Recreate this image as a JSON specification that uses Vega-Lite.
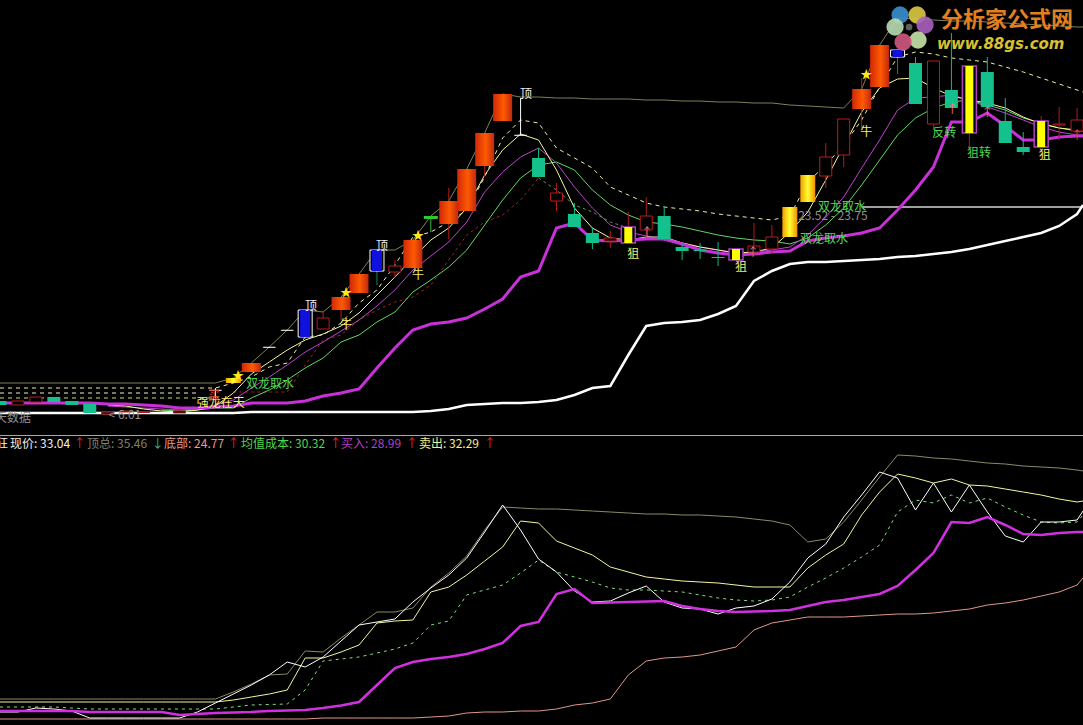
{"$schema":"https://vega.github.io/schema/vega-lite/v6.json","background":"#000000","padding":0,"spacing":0,"bounds":"flush","config":{"view":{"stroke":null},"text":{"font":"Noto Sans CJK SC"}},
"datasets":{
"top":[
{"i":0,"k":"g","t":3.4,"b":3.0,"h":3.4,"l":3.0,"m":3.2,"w":2.2,"o":5.2,"d":4.7,"e":4.2,"f":3.7},
{"i":1,"k":"r","t":3.4,"b":3.0,"h":3.4,"l":3.0,"m":3.2,"w":2.2,"o":5.2,"d":4.7,"e":4.2,"f":3.7},
{"i":2,"k":"r","t":3.8,"b":3.3,"h":3.8,"l":3.3,"m":3.2,"w":2.2,"o":5.2,"d":4.7,"e":4.2,"f":3.7},
{"i":3,"k":"g","t":3.8,"b":3.3,"h":3.8,"l":3.3,"m":3.2,"w":2.2,"o":5.2,"d":4.7,"e":4.2,"f":3.7},
{"i":4,"k":"g","t":3.4,"b":3.0,"h":3.4,"l":3.0,"m":3.2,"w":2.2,"o":5.2,"d":4.7,"e":4.2,"f":3.7},
{"i":5,"k":"g","t":3.1,"b":2.2,"h":3.1,"l":2.2,"m":3.2,"w":2.2,"o":5.2,"d":4.7,"e":4.2,"f":3.7},
{"i":6,"k":"r","t":2.3,"b":2.1,"h":2.3,"l":2.1,"m":3.1,"w":2.2,"o":5.2,"d":4.7,"e":4.2,"f":3.7,"y":3.0,"p":2.9},
{"i":7,"k":"r","t":2.4,"b":2.3,"h":2.4,"l":2.3,"m":3.1,"w":2.2,"o":5.2,"d":4.7,"e":4.2,"f":3.7,"y":2.9,"p":2.8},
{"i":8,"k":"r","t":2.3,"b":2.25,"h":2.3,"l":2.25,"m":3.0,"w":2.2,"o":5.2,"d":4.7,"e":4.2,"f":3.7,"y":2.6,"p":2.7},
{"i":9,"m":2.9,"w":2.2,"o":5.2,"d":4.7,"e":4.2,"f":3.7,"y":2.4,"p":2.6,"g":2.5},
{"i":10,"k":"r","t":2.4,"b":2.2,"h":2.4,"l":2.2,"m":2.7,"w":2.2,"o":5.2,"d":4.7,"e":4.2,"f":3.7,"y":2.3,"p":2.5,"g":2.4},
{"i":11,"m":2.7,"w":2.2,"o":5.2,"d":4.7,"e":4.2,"f":3.7,"y":2.5,"p":2.6,"g":2.5},
{"i":12,"k":"w","t":4.5,"b":4.45,"h":4.7,"l":3.7,"m":2.8,"w":2.2,"o":5.2,"d":4.7,"f":3.7,"y":2.9,"p":3.0,"g":2.7},
{"i":13,"k":"Y","t":5.7,"b":5.2,"h":5.7,"l":5.2,"m":2.9,"w":2.2,"o":5.7,"d":5.2,"y":4.2,"p":3.5,"g":2.7,"r":4.3},
{"i":14,"k":"O","t":7.2,"b":6.3,"h":7.2,"l":6.3,"m":3.2,"w":2.3,"o":7.2,"d":5.8,"y":6.1,"p":4.7,"g":3.7,"r":4.3},
{"i":15,"k":"w","t":8.8,"b":8.75,"h":8.8,"l":8.75,"m":3.2,"w":2.3,"o":8.8,"d":6.8,"y":7.3,"p":5.8,"g":4.5,"r":4.3},
{"i":16,"k":"w","t":10.5,"b":10.45,"h":10.5,"l":10.45,"m":3.2,"w":2.3,"o":10.5,"d":7.2,"y":8.5,"p":7.0,"g":5.5,"r":4.3},
{"i":17,"k":"b","t":12.5,"b":9.8,"h":12.5,"l":9.8,"m":3.4,"w":2.3,"o":12.5,"d":9.8,"y":9.5,"p":8.3,"g":6.7,"r":7.0},
{"i":18,"k":"r","t":11.7,"b":10.6,"h":12.3,"l":10.6,"m":3.9,"w":2.3,"o":12.3,"d":10.0,"y":10.1,"p":9.3,"g":7.7,"r":9.5},
{"i":19,"k":"O","t":13.8,"b":12.5,"h":13.8,"l":11.5,"m":4.2,"w":2.3,"o":13.8,"d":11.2,"y":10.9,"p":10.4,"g":9.3,"r":10.0},
{"i":20,"k":"O","t":16.1,"b":14.2,"h":16.1,"l":14.2,"m":4.6,"w":2.3,"o":16.1,"d":13.2,"y":12.2,"p":11.5,"g":10.0,"r":11.5},
{"i":21,"k":"b","t":18.5,"b":16.4,"h":18.5,"l":15.0,"m":6.7,"w":2.3,"o":18.5,"d":14.5,"y":14.0,"p":12.9,"g":11.3,"r":12.5},
{"i":22,"k":"r","t":16.9,"b":16.3,"h":17.5,"l":15.7,"m":8.7,"w":2.3,"o":18.5,"d":17.0,"y":15.8,"p":14.5,"g":12.3,"r":13.3},
{"i":23,"k":"O","t":19.5,"b":16.7,"h":19.5,"l":16.7,"m":10.5,"w":2.3,"o":19.5,"d":19.8,"y":17.7,"p":16.5,"g":14.3,"r":13.8},
{"i":24,"k":"l","t":21.9,"b":21.6,"h":21.9,"l":20.3,"m":11.1,"w":2.4,"o":21.9,"d":20.3,"y":19.5,"p":17.9,"g":15.5,"r":15.0},
{"i":25,"k":"O","t":23.4,"b":21.1,"h":24.7,"l":19.6,"m":11.3,"w":2.6,"o":23.4,"d":21.3,"y":20.7,"p":19.3,"g":16.8,"r":17.5},
{"i":26,"k":"O","t":26.6,"b":22.4,"h":26.6,"l":22.4,"m":11.7,"w":3.0,"o":26.6,"d":22.5,"y":22.7,"p":21.3,"g":18.5,"r":20.0},
{"i":27,"k":"O","t":30.2,"b":26.9,"h":30.2,"l":25.8,"m":12.6,"w":3.1,"o":30.2,"d":25.8,"y":26.0,"p":24.3,"g":21.0,"r":21.3},
{"i":28,"k":"O","t":34.1,"b":31.4,"h":34.1,"l":31.4,"m":13.6,"w":3.2,"o":34.1,"d":29.7,"y":28.5,"p":26.3,"g":23.5,"r":22.0},
{"i":29,"k":"w","t":30.0,"b":29.95,"h":33.7,"l":30.0,"m":15.8,"w":3.2,"o":33.8,"d":31.5,"y":30.1,"p":27.8,"g":25.7,"r":23.5},
{"i":30,"k":"g","t":27.7,"b":25.8,"h":28.7,"l":25.8,"m":16.4,"w":3.3,"o":33.8,"d":31.2,"y":29.5,"p":28.7,"g":27.0,"r":25.7,"n":25.7},
{"i":31,"k":"r","t":24.2,"b":23.4,"h":25.2,"l":22.4,"m":20.7,"w":3.5,"o":33.7,"d":28.7,"y":26.5,"p":27.2,"g":27.3,"n":24.5},
{"i":32,"k":"g","t":22.1,"b":20.8,"h":23.2,"l":20.8,"m":21.2,"w":4.0,"o":33.7,"d":27.7,"y":22.7,"p":24.8,"g":26.5,"n":23.0},
{"i":33,"k":"g","t":20.2,"b":19.2,"h":20.7,"l":18.6,"m":19.5,"w":4.7,"o":33.6,"d":26.7,"y":20.7,"p":22.7,"g":24.5,"n":22.3},
{"i":34,"k":"r","t":19.7,"b":19.4,"h":20.4,"l":18.7,"m":19.4,"w":4.9,"o":33.6,"d":24.8,"y":19.7,"p":21.0,"g":23.0,"n":21.3},
{"i":35,"k":"y","t":20.8,"b":19.2,"h":22.3,"l":19.2,"m":19.5,"w":8.0,"o":33.6,"d":24.0,"y":19.5,"p":20.3,"g":22.0,"n":20.7},
{"i":36,"k":"r","t":21.9,"b":20.5,"h":23.8,"l":19.8,"m":19.6,"w":10.9,"o":33.5,"d":23.2,"y":19.8,"p":19.9,"g":21.3},
{"i":37,"k":"g","t":21.9,"b":19.6,"h":22.9,"l":19.6,"m":19.6,"w":11.2,"o":33.5,"d":22.8,"y":19.8,"p":19.5,"g":21.1},
{"i":38,"k":"g","t":18.8,"b":18.4,"h":19.2,"l":17.5,"m":19.1,"w":11.3,"o":33.4,"d":22.6,"y":19.2,"p":19.2,"g":20.8},
{"i":39,"k":"g","t":18.5,"b":18.4,"h":19.2,"l":17.6,"m":18.5,"w":11.5,"o":33.4,"d":22.4,"y":18.8,"p":18.8,"g":20.4},
{"i":40,"k":"g","t":17.8,"b":17.7,"h":19.3,"l":16.9,"m":18.2,"w":12.1,"o":33.3,"d":22.1,"y":18.5,"p":18.5,"g":20.0},
{"i":41,"k":"y","t":18.6,"b":17.5,"h":18.6,"l":17.5,"m":18.0,"w":12.9,"o":33.3,"d":21.9,"y":18.2,"p":18.2,"g":19.7},
{"i":42,"k":"r","t":18.9,"b":18.3,"h":21.2,"l":17.9,"m":18.1,"w":15.4,"o":33.2,"d":21.7,"y":18.3,"p":18.3,"g":19.5},
{"i":43,"k":"r","t":19.8,"b":18.6,"h":21.0,"l":18.2,"m":18.3,"w":16.4,"o":33.2,"d":21.5,"y":18.7,"p":18.5,"g":19.4},
{"i":44,"k":"Y","t":22.8,"b":19.8,"h":22.8,"l":19.8,"m":18.4,"w":17.1,"o":33.0,"d":21.9,"y":20.3,"p":18.8,"g":19.1},
{"i":45,"k":"Y","t":26.0,"b":23.3,"h":26.0,"l":23.3,"m":19.4,"w":17.3,"o":32.9,"d":25.3,"y":22.3,"p":20.0,"g":19.7},
{"i":46,"k":"r","t":27.8,"b":25.9,"h":29.2,"l":24.7,"m":19.7,"w":17.3,"o":32.8,"d":27.0,"y":25.5,"p":21.8,"g":21.0},
{"i":47,"k":"r","t":31.6,"b":28.0,"h":31.6,"l":26.8,"m":19.9,"w":17.4,"o":32.7,"d":29.0,"y":28.9,"p":23.8,"g":22.7},
{"i":48,"k":"O","t":34.6,"b":32.6,"h":35.7,"l":30.7,"m":20.2,"w":17.5,"o":34.6,"d":31.5,"y":32.3,"p":26.7,"g":25.0,"z":22.8},
{"i":49,"k":"O","t":39.0,"b":34.8,"h":39.0,"l":34.8,"m":20.7,"w":17.6,"o":39.0,"d":34.8,"y":34.7,"p":29.5,"g":27.5,"z":22.8},
{"i":50,"k":"b","t":38.5,"b":37.8,"h":38.5,"l":36.1,"m":22.5,"w":17.8,"o":41.7,"d":37.8,"y":35.6,"p":32.5,"g":30.0,"z":22.8},
{"i":51,"k":"g","t":37.2,"b":33.1,"h":37.8,"l":33.1,"m":24.5,"w":17.9,"o":41.6,"d":38.3,"y":35.7,"p":33.7,"g":31.7,"z":22.8},
{"i":52,"k":"r","t":37.4,"b":31.1,"h":37.4,"l":30.5,"m":26.8,"w":18.1,"o":41.5,"d":38.1,"y":34.7,"p":33.8,"g":32.7,"z":22.8},
{"i":53,"k":"g","t":34.5,"b":32.7,"h":40.2,"l":32.7,"m":31.3,"w":18.3,"o":41.4,"d":37.7,"y":33.9,"p":34.0,"g":33.3,"z":22.8},
{"i":54,"k":"y","t":36.9,"b":30.2,"h":36.9,"l":28.7,"m":31.3,"w":18.6,"o":41.4,"d":37.5,"y":33.5,"p":33.5,"g":33.5,"z":22.8},
{"i":55,"k":"g","t":36.3,"b":32.8,"h":37.8,"l":32.8,"m":32.2,"w":19.0,"o":41.3,"d":37.3,"y":33.2,"p":32.8,"g":33.0,"z":22.8},
{"i":56,"k":"g","t":31.4,"b":29.2,"h":33.7,"l":29.2,"m":30.9,"w":19.4,"o":41.2,"d":36.8,"y":32.7,"p":32.2,"g":32.5,"z":22.8},
{"i":57,"k":"g","t":28.8,"b":28.3,"h":30.3,"l":28.0,"m":29.5,"w":19.8,"o":41.1,"d":36.3,"y":31.8,"p":31.5,"g":31.7,"z":22.8},
{"i":58,"k":"y","t":31.4,"b":28.8,"h":31.9,"l":28.8,"m":29.5,"w":20.2,"o":41.0,"d":35.7,"y":31.1,"p":30.8,"g":31.2,"z":22.8},
{"i":59,"k":"r","t":31.1,"b":31.0,"h":32.8,"l":29.5,"m":29.8,"w":20.9,"o":40.9,"d":35.1,"y":30.7,"p":30.3,"g":30.7,"z":22.8},
{"i":60,"k":"r","t":31.5,"b":30.4,"h":32.7,"l":30.0,"m":29.9,"w":22.1,"o":40.8,"d":34.5,"y":30.5,"p":30.0,"g":30.4,"z":22.8},
{"i":60.33,"m":29.9,"w":23.0,"o":40.8,"d":34.3,"y":30.5,"p":30.0,"g":30.4,"z":22.8}
],
"low":[
{"i":0,"o":2.6,"y":2.3,"w":1.3,"n":1.8,"m":1.4,"s":0.6},
{"i":1,"o":2.6,"y":2.3,"w":1.3,"n":1.8,"m":1.4,"s":0.6},
{"i":2,"o":2.6,"y":2.3,"w":1.7,"n":1.8,"m":1.4,"s":0.6},
{"i":3,"o":2.6,"y":2.3,"w":1.6,"n":1.8,"m":1.4,"s":0.6},
{"i":4,"o":2.6,"y":2.3,"w":1.4,"n":1.7,"m":1.4,"s":0.6},
{"i":5,"o":2.6,"y":2.3,"w":0.7,"n":1.6,"m":1.3,"s":0.6},
{"i":6,"o":2.6,"y":2.3,"w":0.7,"n":1.6,"m":1.3,"s":0.6},
{"i":7,"o":2.6,"y":2.3,"w":0.7,"n":1.6,"m":1.3,"s":0.6},
{"i":8,"o":2.6,"y":2.3,"w":0.7,"n":1.6,"m":1.3,"s":0.6},
{"i":9,"o":2.6,"y":2.3,"w":0.7,"n":1.6,"m":1.3,"s":0.6},
{"i":10,"o":2.6,"y":2.3,"w":0.7,"n":1.6,"m":1.0,"s":0.6},
{"i":11,"o":2.6,"y":2.3,"w":1.3,"n":1.6,"m":1.1,"s":0.6},
{"i":12,"o":2.6,"y":2.3,"w":2.2,"n":1.6,"m":1.2,"s":0.6},
{"i":13,"o":3.3,"y":2.5,"w":3.1,"n":1.8,"m":1.25,"s":0.6},
{"i":14,"o":4.1,"y":2.8,"w":4.0,"n":2.0,"m":1.3,"s":0.6},
{"i":15,"o":5.0,"y":3.1,"w":5.0,"n":2.05,"m":1.4,"s":0.6},
{"i":16,"o":5.1,"y":3.5,"w":6.3,"n":2.1,"m":1.45,"s":0.6},
{"i":17,"o":7.4,"y":6.7,"w":5.8,"n":3.5,"m":1.5,"s":0.6},
{"i":18,"o":7.3,"y":6.7,"w":6.8,"n":6.4,"m":1.7,"s":0.7},
{"i":19,"o":8.7,"y":7.3,"w":8.4,"n":6.6,"m":1.95,"s":0.7},
{"i":20,"o":10.0,"y":8.0,"w":10.0,"n":6.8,"m":2.3,"s":0.7},
{"i":21,"o":11.3,"y":10.2,"w":10.3,"n":7.2,"m":4.0,"s":0.7},
{"i":22,"o":11.3,"y":10.4,"w":10.6,"n":7.6,"m":5.7,"s":0.7},
{"i":23,"o":11.7,"y":10.5,"w":12.3,"n":8.2,"m":6.3,"s":0.7},
{"i":24,"o":13.8,"y":13.3,"w":13.7,"n":10.0,"m":6.6,"s":0.8},
{"i":25,"o":15.2,"y":13.8,"w":15.0,"n":10.4,"m":6.8,"s":0.9},
{"i":26,"o":16.9,"y":15.0,"w":16.7,"n":13.0,"m":7.1,"s":1.2},
{"i":27,"o":19.5,"y":16.4,"w":19.3,"n":13.5,"m":7.6,"s":1.3},
{"i":28,"o":21.8,"y":17.8,"w":22.0,"n":14.0,"m":8.2,"s":1.3},
{"i":29,"o":21.7,"y":20.4,"w":19.5,"n":15.2,"m":9.9,"s":1.4},
{"i":30,"o":21.6,"y":20.2,"w":16.6,"n":16.5,"m":10.3,"s":1.4},
{"i":31,"o":21.6,"y":18.4,"w":15.3,"n":15.3,"m":13.1,"s":1.6},
{"i":32,"o":21.5,"y":17.7,"w":13.4,"n":14.8,"m":13.6,"s":2.0},
{"i":33,"o":21.4,"y":17.0,"w":12.3,"n":14.3,"m":12.2,"s":2.2},
{"i":34,"o":21.3,"y":15.8,"w":12.4,"n":13.7,"m":12.25,"s":2.6},
{"i":35,"o":21.2,"y":15.3,"w":13.2,"n":13.5,"m":12.3,"s":5.0},
{"i":36,"o":21.1,"y":14.8,"w":13.9,"n":13.5,"m":12.35,"s":6.4},
{"i":37,"o":21.1,"y":14.6,"w":12.3,"n":13.4,"m":12.4,"s":6.7},
{"i":38,"o":21.0,"y":14.4,"w":11.7,"n":13.3,"m":11.9,"s":6.8},
{"i":39,"o":21.0,"y":14.3,"w":11.6,"n":13.0,"m":11.6,"s":7.0},
{"i":40,"o":20.9,"y":14.2,"w":11.1,"n":12.7,"m":11.4,"s":7.4},
{"i":41,"o":20.8,"y":14.0,"w":11.7,"n":12.5,"m":11.3,"s":7.8},
{"i":42,"o":20.6,"y":13.8,"w":11.9,"n":12.4,"m":11.35,"s":9.5},
{"i":43,"o":20.4,"y":13.8,"w":12.6,"n":12.5,"m":11.4,"s":10.2},
{"i":44,"o":20.0,"y":13.8,"w":14.3,"n":12.8,"m":11.5,"s":10.5},
{"i":45,"o":18.3,"y":15.7,"w":16.7,"n":13.8,"m":11.9,"s":10.8},
{"i":46,"o":18.6,"y":17.0,"w":18.1,"n":14.7,"m":12.3,"s":10.8},
{"i":47,"o":20.3,"y":18.1,"w":20.8,"n":15.7,"m":12.5,"s":10.8},
{"i":48,"o":22.5,"y":21.0,"w":23.0,"n":16.8,"m":12.8,"s":10.9},
{"i":49,"o":24.8,"y":23.3,"w":25.3,"n":18.0,"m":13.1,"s":11.0},
{"i":50,"o":27.0,"y":25.1,"w":24.7,"n":21.3,"m":13.9,"s":11.1},
{"i":51,"o":26.9,"y":24.7,"w":21.5,"n":22.5,"m":15.5,"s":11.1},
{"i":52,"o":26.7,"y":24.2,"w":24.2,"n":22.2,"m":17.2,"s":11.2},
{"i":53,"o":26.6,"y":24.6,"w":21.3,"n":23.0,"m":20.3,"s":11.4},
{"i":54,"o":26.4,"y":24.0,"w":24.0,"n":22.2,"m":20.2,"s":11.6},
{"i":55,"o":26.2,"y":23.9,"w":21.3,"n":22.7,"m":20.8,"s":12.0},
{"i":56,"o":26.1,"y":23.6,"w":18.9,"n":21.8,"m":20.0,"s":12.2},
{"i":57,"o":25.9,"y":23.3,"w":18.3,"n":21.0,"m":19.1,"s":12.5},
{"i":58,"o":25.8,"y":23.0,"w":20.3,"n":20.3,"m":19.0,"s":12.9},
{"i":59,"o":25.7,"y":22.6,"w":20.3,"n":20.2,"m":19.2,"s":13.3},
{"i":60,"o":25.5,"y":22.3,"w":20.5,"n":20.3,"m":19.3,"s":14.0},
{"i":60.33,"o":25.4,"y":22.4,"w":21.4,"n":21.0,"m":19.3,"s":14.7}
],
"labels":[
{"x":"双龙取水","i":15.04,"v":5.1,"c":"green"},
{"x":"强龙在天","i":12.3,"v":3.2,"c":"yellow"},
{"x":"买","i":11.92,"v":3.9,"c":"red"},
{"x":"< 6.01","i":6.96,"v":2.0,"c":"gray"},
{"x":"天数据","i":0.72,"v":1.7,"c":"gray"},
{"x":"顶","i":17.33,"v":12.9,"c":"white"},
{"x":"牛","i":19.28,"v":11.0,"c":"yellow"},
{"x":"顶","i":21.28,"v":18.9,"c":"white"},
{"x":"牛","i":23.29,"v":16.0,"c":"yellow"},
{"x":"顶","i":29.3,"v":34.1,"c":"white"},
{"x":"狙","i":35.27,"v":18.1,"c":"yellow"},
{"x":"狙","i":41.28,"v":16.8,"c":"yellow"},
{"x":"双龙取水","i":45.9,"v":19.6,"c":"green"},
{"x":"23.52 - 23.75","i":46.4,"v":21.9,"c":"gray"},
{"x":"双龙取水","i":46.9,"v":22.8,"c":"green"},
{"x":"牛","i":48.25,"v":30.3,"c":"yellow"},
{"x":"反转","i":52.6,"v":30.2,"c":"green"},
{"x":"狙转","i":54.54,"v":28.2,"c":"green"},
{"x":"狙","i":58.2,"v":28.0,"c":"yellow"},
{"x":"★","i":13.26,"v":5.9,"c":"star"},
{"x":"★","i":19.28,"v":14.2,"c":"star"},
{"x":"★","i":23.29,"v":19.9,"c":"star"},
{"x":"★","i":48.25,"v":36.0,"c":"star"},
{"x":"↑","i":36.04,"v":20.2,"c":"pink"},
{"x":"↑","i":41.95,"v":18.2,"c":"pink"},
{"x":"↑","i":53.04,"v":32.5,"c":"pink"},
{"x":"↑","i":54.99,"v":32.2,"c":"pink"},
{"x":"↑","i":60,"v":29.9,"c":"red"}
],
"petals":[
{"i":50.14,"v":42.0,"c":"a"},{"i":51.09,"v":42.0,"c":"b"},{"i":51.53,"v":41.0,"c":"c"},{"i":51.14,"v":39.5,"c":"d"},{"i":50.31,"v":39.3,"c":"e"},{"i":49.86,"v":40.8,"c":"f"}
],
"header":[
{"x":"狂","i":-0.22,"v":28.1,"c":"white"},
{"x":"现价: 33.04","i":0.56,"v":28.1,"c":"white"},
{"x":"↑","i":4.1,"v":28.1,"c":"red"},
{"x":"顶总: 35.46","i":4.85,"v":28.1,"c":"olive"},
{"x":"↓","i":8.45,"v":28.1,"c":"teal"},
{"x":"底部: 24.77","i":9.14,"v":28.1,"c":"salmon"},
{"x":"↑","i":12.68,"v":28.1,"c":"red"},
{"x":"均值成本: 30.32","i":13.43,"v":28.1,"c":"green"},
{"x":"↑","i":18.36,"v":28.1,"c":"red"},
{"x":"买入: 28.99","i":19.0,"v":28.1,"c":"purple"},
{"x":"↑","i":22.6,"v":28.1,"c":"red"},
{"x":"卖出: 32.29","i":23.34,"v":28.1,"c":"pale"},
{"x":"↑","i":26.95,"v":28.1,"c":"red"}
]
},
"vconcat":[
{"width":1083,"height":435,"data":{"name":"top"},
"resolve":{"scale":{"color":"independent"}},
"encoding":{"x":{"field":"i","type":"quantitative","scale":{"domain":[0,60.33],"nice":false,"zero":false,"padding":0},"axis":null}},
"layer":[
{"mark":{"type":"line","color":"#7f7f5a","strokeWidth":1,"clip":true},"encoding":{"y":{"field":"o","type":"quantitative","scale":{"domain":[0,43.5]},"axis":null}}},
{"mark":{"type":"line","color":"#f0f0a0","strokeWidth":1,"strokeDash":[4,4],"clip":true},"encoding":{"y":{"field":"d","type":"quantitative","scale":{"domain":[0,43.5]},"axis":null}}},
{"mark":{"type":"line","color":"#f0f0d0","strokeWidth":1,"strokeDash":[4,4],"clip":true},"encoding":{"y":{"field":"e","type":"quantitative","scale":{"domain":[0,43.5]},"axis":null}}},
{"mark":{"type":"line","color":"#d0e060","strokeWidth":1,"strokeDash":[4,4],"clip":true},"encoding":{"y":{"field":"f","type":"quantitative","scale":{"domain":[0,43.5]},"axis":null}}},
{"mark":{"type":"line","color":"#8e2a20","strokeWidth":1,"strokeDash":[3,3],"clip":true},"encoding":{"y":{"field":"r","type":"quantitative","scale":{"domain":[0,43.5]},"axis":null}}},
{"mark":{"type":"line","color":"#5f9060","strokeWidth":1,"strokeDash":[3,3],"clip":true},"encoding":{"y":{"field":"n","type":"quantitative","scale":{"domain":[0,43.5]},"axis":null}}},
{"mark":{"type":"line","color":"#60d860","strokeWidth":1,"clip":true},"encoding":{"y":{"field":"g","type":"quantitative","scale":{"domain":[0,43.5]},"axis":null}}},
{"mark":{"type":"line","color":"#c040d0","strokeWidth":1,"clip":true},"encoding":{"y":{"field":"p","type":"quantitative","scale":{"domain":[0,43.5]},"axis":null}}},
{"mark":{"type":"line","color":"#f5f5a0","strokeWidth":1,"clip":true},"encoding":{"y":{"field":"y","type":"quantitative","scale":{"domain":[0,43.5]},"axis":null}}},
{"mark":{"type":"line","color":"#a0a0a0","strokeWidth":2,"clip":true},"encoding":{"y":{"field":"z","type":"quantitative","scale":{"domain":[0,43.5]},"axis":null}}},
{"mark":{"type":"line","color":"#ffffff","strokeWidth":2.5,"clip":true},"encoding":{"y":{"field":"w","type":"quantitative","scale":{"domain":[0,43.5]},"axis":null}}},
{"mark":{"type":"line","color":"#c830d8","strokeWidth":3,"clip":true},"encoding":{"y":{"field":"m","type":"quantitative","scale":{"domain":[0,43.5]},"axis":null}}},
{"mark":{"type":"rule","strokeWidth":1,"clip":true},"encoding":{"y":{"field":"h","type":"quantitative","scale":{"domain":[0,43.5]},"axis":null},"y2":{"field":"l"},"color":{"field":"k","type":"nominal","scale":{"domain":["r","O","g","b","y","Y","w","l"],"range":["#b01c1c","#b02010","#14b888","#208050","#b01c1c","#b02010","#ffffff","#30c040"]},"legend":null}}},
{"transform":[{"filter":"datum.k==='r'"}],"mark":{"type":"bar","size":12,"fill":"#000000","stroke":"#b81c1c","strokeWidth":1,"clip":true},"encoding":{"y":{"field":"t","type":"quantitative","scale":{"domain":[0,43.5]},"axis":null},"y2":{"field":"b"}}},
{"transform":[{"filter":"datum.k==='g'"}],"mark":{"type":"bar","size":13,"color":"#14c08c","clip":true},"encoding":{"y":{"field":"t","type":"quantitative","scale":{"domain":[0,43.5]},"axis":null},"y2":{"field":"b"}}},
{"transform":[{"filter":"datum.k==='O'"}],"mark":{"type":"bar","size":19,"clip":true,"color":{"gradient":"linear","x1":0,"y1":0,"x2":1,"y2":0,"stops":[{"offset":0,"color":"#d02808"},{"offset":0.55,"color":"#ff5a00"},{"offset":1,"color":"#c02810"}]}},"encoding":{"y":{"field":"t","type":"quantitative","scale":{"domain":[0,43.5]},"axis":null},"y2":{"field":"b"}}},
{"transform":[{"filter":"datum.k==='Y'"}],"mark":{"type":"bar","size":15,"clip":true,"color":{"gradient":"linear","x1":0,"y1":0,"x2":1,"y2":0,"stops":[{"offset":0,"color":"#f0a000"},{"offset":0.5,"color":"#ffff30"},{"offset":1,"color":"#f09000"}]}},"encoding":{"y":{"field":"t","type":"quantitative","scale":{"domain":[0,43.5]},"axis":null},"y2":{"field":"b"}}},
{"transform":[{"filter":"datum.k==='y'"}],"mark":{"type":"bar","size":14,"fill":"#000000","stroke":"#b040c0","strokeWidth":1.5,"clip":true},"encoding":{"y":{"field":"t","type":"quantitative","scale":{"domain":[0,43.5]},"axis":null},"y2":{"field":"b"}}},
{"transform":[{"filter":"datum.k==='y'"}],"mark":{"type":"bar","size":8,"color":"#ffff00","clip":true},"encoding":{"y":{"field":"t","type":"quantitative","scale":{"domain":[0,43.5]},"axis":null},"y2":{"field":"b"}}},
{"transform":[{"filter":"datum.k==='b'"}],"mark":{"type":"bar","size":14,"fill":"#000000","stroke":"#ffffff","strokeWidth":1,"clip":true},"encoding":{"y":{"field":"t","type":"quantitative","scale":{"domain":[0,43.5]},"axis":null},"y2":{"field":"b"}}},
{"transform":[{"filter":"datum.k==='b'"}],"mark":{"type":"bar","size":10,"color":"#1010e0","clip":true},"encoding":{"y":{"field":"t","type":"quantitative","scale":{"domain":[0,43.5]},"axis":null},"y2":{"field":"b"}}},
{"transform":[{"filter":"datum.k==='w'"}],"mark":{"type":"bar","size":12,"fill":"#ffffff","stroke":"#ffffff","strokeWidth":0.5,"clip":true},"encoding":{"y":{"field":"t","type":"quantitative","scale":{"domain":[0,43.5]},"axis":null},"y2":{"field":"b"}}},
{"transform":[{"filter":"datum.k==='l'"}],"mark":{"type":"bar","size":14,"color":"#30c830","clip":true},"encoding":{"y":{"field":"t","type":"quantitative","scale":{"domain":[0,43.5]},"axis":null},"y2":{"field":"b"}}},
{"data":{"name":"labels"},"mark":{"type":"text","fontSize":12,"clip":true},"encoding":{"y":{"field":"v","type":"quantitative","scale":{"domain":[0,43.5]},"axis":null},"text":{"field":"x"},"color":{"field":"c","type":"nominal","scale":{"domain":["green","yellow","red","gray","white","star","pink"],"range":["#50d850","#f8f070","#e04030","#909090","#f0f0f0","#ffe818","#ff7070"]},"legend":null}}},
{"data":{"name":"petals"},"mark":{"type":"point","filled":true,"size":300,"opacity":0.9,"clip":true},"encoding":{"y":{"field":"v","type":"quantitative","scale":{"domain":[0,43.5]},"axis":null},"color":{"field":"c","type":"nominal","scale":{"domain":["a","b","c","d","e","f"],"range":["#3a8fd0","#dccb40","#a860c0","#c8e4a8","#d05880","#b8dcb0"]},"legend":null}}},
{"data":{"values":[{"i":50.64,"v":40.8}]},"mark":{"type":"point","filled":true,"size":45,"color":"#606060","opacity":1,"clip":true},"encoding":{"y":{"field":"v","type":"quantitative","scale":{"domain":[0,43.5]},"axis":null}}},
{"data":{"values":[{"i":56.1,"v":41.5,"x":"分析家公式网"}]},"mark":{"type":"text","fontSize":22,"fontWeight":"bold","color":"#e08020","clip":true},"encoding":{"y":{"field":"v","type":"quantitative","scale":{"domain":[0,43.5]},"axis":null},"text":{"field":"x"}}},
{"data":{"values":[{"i":55.75,"v":39.1,"x":"www.88gs.com"}]},"mark":{"type":"text","font":"DejaVu Sans","fontSize":15,"fontWeight":"bold","fontStyle":"italic","color":"#d8c030","clip":true},"encoding":{"y":{"field":"v","type":"quantitative","scale":{"domain":[0,43.5]},"axis":null},"text":{"field":"x"}}}
]},
{"width":1083,"height":290,"data":{"name":"low"},
"resolve":{"scale":{"color":"independent"}},
"encoding":{"x":{"field":"i","type":"quantitative","scale":{"domain":[0,60.33],"nice":false,"zero":false,"padding":0},"axis":null}},
"layer":[
{"data":{"values":[{"i":0,"v":28.97},{"i":60.33,"v":28.97}]},"mark":{"type":"line","color":"#a8a8a8","strokeWidth":1.2,"clip":true},"encoding":{"y":{"field":"v","type":"quantitative","scale":{"domain":[0,29]},"axis":null}}},
{"mark":{"type":"line","color":"#8a8a68","strokeWidth":1,"clip":true},"encoding":{"y":{"field":"o","type":"quantitative","scale":{"domain":[0,29]},"axis":null}}},
{"mark":{"type":"line","color":"#e09888","strokeWidth":1,"clip":true},"encoding":{"y":{"field":"s","type":"quantitative","scale":{"domain":[0,29]},"axis":null}}},
{"mark":{"type":"line","color":"#80e080","strokeWidth":1,"strokeDash":[3,4],"clip":true},"encoding":{"y":{"field":"n","type":"quantitative","scale":{"domain":[0,29]},"axis":null}}},
{"mark":{"type":"line","color":"#f5f5a0","strokeWidth":1,"clip":true},"encoding":{"y":{"field":"y","type":"quantitative","scale":{"domain":[0,29]},"axis":null}}},
{"mark":{"type":"line","color":"#ffffff","strokeWidth":1,"clip":true},"encoding":{"y":{"field":"w","type":"quantitative","scale":{"domain":[0,29]},"axis":null}}},
{"mark":{"type":"line","color":"#d030e0","strokeWidth":2.5,"clip":true},"encoding":{"y":{"field":"m","type":"quantitative","scale":{"domain":[0,29]},"axis":null}}},
{"data":{"name":"header"},"mark":{"type":"text","fontSize":12,"align":"left","clip":true},"encoding":{"y":{"field":"v","type":"quantitative","scale":{"domain":[0,29]},"axis":null},"text":{"field":"x"},"color":{"field":"c","type":"nominal","scale":{"domain":["white","red","olive","teal","salmon","green","purple","pale"],"range":["#f0f0f0","#e02828","#80806a","#30c090","#e89a88","#50d850","#b040c8","#eef090"]},"legend":null}}}
]}
]}
